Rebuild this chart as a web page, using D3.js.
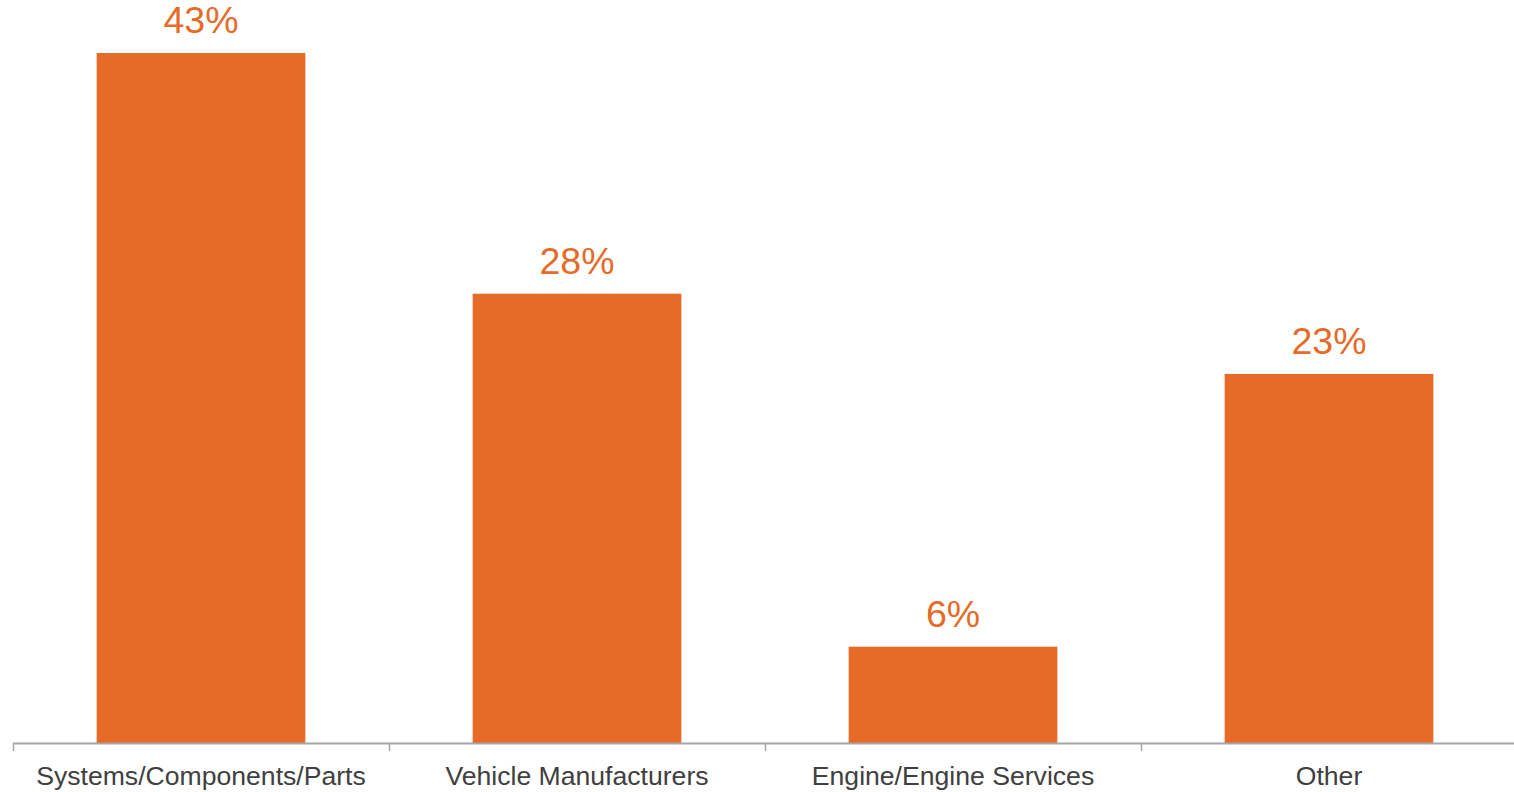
<!DOCTYPE html>
<html>
<head>
<meta charset="utf-8">
<script src="https://cdn.jsdelivr.net/npm/d3@7"></script>
<style>
  html, body { margin: 0; padding: 0; background: #ffffff; }
  svg { display: block; }
</style>
</head>
<body>
<svg id="chart" width="1514" height="792"></svg>
<script>
// Share of respondents by business segment
const categories = ["Systems/Components/Parts", "Vehicle Manufacturers", "Engine/Engine Services", "Other"];
const shares = [43, 28, 6, 23];
const valueLabels = ["43%", "28%", "6%", "23%"];

const width = 1514, height = 792;
const baseline = 743;
const svg = d3.select("#chart");

const x = d3.scaleBand()
  .domain(categories)
  .range([13, 1517])
  .paddingInner(0.445)
  .paddingOuter(0.2225);

const y = d3.scaleLinear()
  .domain([0, 43])
  .range([baseline, 53]);

const barColor = "#E66A28";
const font = "Liberation Sans, Arial, Helvetica, sans-serif";

// Bars
svg.append("g")
  .selectAll("rect")
  .data(categories)
  .join("rect")
  .attr("x", d => x(d))
  .attr("width", x.bandwidth())
  .attr("y", (d, i) => y(shares[i]))
  .attr("height", (d, i) => baseline - y(shares[i]))
  .attr("fill", barColor);

// Value labels above bars
svg.append("g")
  .selectAll("text")
  .data(categories)
  .join("text")
  .attr("x", d => x(d) + x.bandwidth() / 2)
  .attr("y", (d, i) => y(shares[i]) - 20)
  .attr("text-anchor", "middle")
  .attr("font-family", font)
  .attr("font-size", 37.5)
  .attr("fill", barColor)
  .text((d, i) => valueLabels[i]);

// Category axis with ticks at band boundaries
const axisG = svg.append("g");
axisG.append("line")
  .attr("x1", 13).attr("x2", width)
  .attr("y1", baseline + 0.5).attr("y2", baseline + 0.5)
  .attr("stroke", "#A6A6A6")
  .attr("stroke-width", 2);

const step = x.step();
const tickXs = categories.map((d, i) => x.range()[0] + i * step);
axisG.selectAll("line.tick")
  .data(tickXs)
  .join("line")
  .attr("class", "tick")
  .attr("x1", d => Math.round(d) + 0.5)
  .attr("x2", d => Math.round(d) + 0.5)
  .attr("y1", baseline)
  .attr("y2", baseline + 8)
  .attr("stroke", "#A6A6A6")
  .attr("stroke-width", 1.5);

axisG.selectAll("text")
  .data(categories)
  .join("text")
  .attr("x", d => x(d) + x.bandwidth() / 2)
  .attr("y", 785)
  .attr("text-anchor", "middle")
  .attr("font-family", font)
  .attr("font-size", 26.6)
  .attr("fill", "#404040")
  .text(d => d);
</script>
</body>
</html>
